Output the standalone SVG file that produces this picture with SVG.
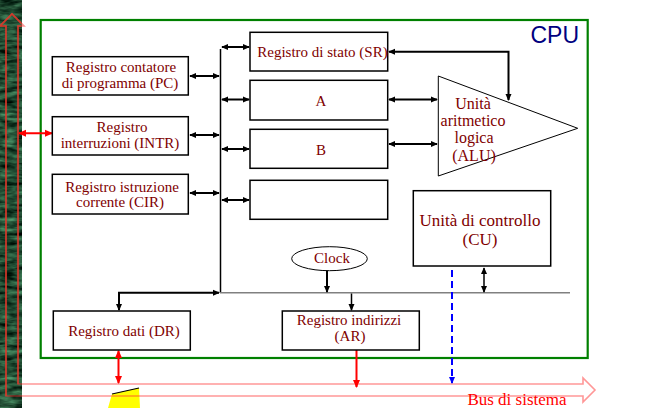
<svg xmlns="http://www.w3.org/2000/svg" width="655" height="408" viewBox="0 0 655 408">
<defs>
<filter id="marble" x="0" y="0" width="1" height="1" color-interpolation-filters="sRGB">
<feTurbulence type="fractalNoise" baseFrequency="0.06 0.22" numOctaves="3" seed="4" result="n"/>
<feColorMatrix in="n" type="matrix" values="0 0 0 0.5 -0.12  0 0 0 0.8 -0.1  0 0 0 0.6 -0.1  0 0 0 0 1"/>
</filter>
<clipPath id="strip"><rect x="0" y="0" width="21.5" height="408"/></clipPath>
<marker id="ah" viewBox="0 0 8 8" refX="7" refY="4" markerWidth="7" markerHeight="7" markerUnits="userSpaceOnUse" orient="auto-start-reverse"><path d="M0,0.5 L8,4 L0,7.5 z" fill="#000"/></marker>
<marker id="ahr" viewBox="0 0 8 8" refX="7" refY="4" markerWidth="8" markerHeight="8" markerUnits="userSpaceOnUse" orient="auto-start-reverse"><path d="M0,0.5 L8,4 L0,7.5 z" fill="#ff0000"/></marker>
<marker id="ahb" viewBox="0 0 8 8" refX="7" refY="4" markerWidth="7" markerHeight="7" markerUnits="userSpaceOnUse" orient="auto-start-reverse"><path d="M0,0.5 L8,4 L0,7.5 z" fill="#0000ff"/></marker>
</defs>
<style>
.box{fill:#fff;stroke:#000;stroke-width:1.5}
.t{font-family:"Liberation Serif","Times New Roman",serif;font-size:15px;fill:#800000;text-anchor:middle}
.tl{font-family:"Liberation Serif","Times New Roman",serif;font-size:17px;fill:#800000;text-anchor:middle}
.ta{font-family:"Liberation Serif","Times New Roman",serif;font-size:16px;fill:#800000;text-anchor:middle}
.c{fill:none;stroke:#000;stroke-width:2}
.ct{fill:none;stroke:#000;stroke-width:1.5}
.red{fill:none;stroke:#ff0000;stroke-width:2}
</style>
<rect width="655" height="408" fill="#fff"/>
<!-- left textured strip -->
<rect x="0" y="0" width="21.5" height="408" fill="#1d4a2b"/>
<rect x="0" y="0" width="21.5" height="408" filter="url(#marble)"/>
<!-- yellow fragment -->
<polygon points="112,394 139,388 140,408 108,408" fill="#ffff00"/>
<line x1="112" y1="394" x2="139" y2="388" stroke="#000" stroke-width="1.2"/>
<!-- system bus outline arrow -->
<g id="system-bus">
<path d="M6,396 L6,26 L0,26 L12,14 L24,26 L18,26 L18,384 L583,384 L583,378 L595,390 L583,402 L583,396 Z" fill="none" stroke="#ff3030" stroke-opacity="0.5" stroke-width="1.6"/>
<path d="M6,396 L6,26 L0,26 L12,14 L24,26 L18,26 L18,384" fill="none" stroke="#d83a2a" stroke-opacity="0.85" stroke-width="1.6" clip-path="url(#strip)"/>
<text x="517" y="405" style="font-family:'Liberation Serif','Times New Roman',serif;font-size:17px;fill:#ff0000;text-anchor:middle">Bus di sistema</text>
</g>
<!-- CPU frame -->
<g id="cpu">
<rect x="40.7" y="20" width="547" height="338" fill="none" stroke="#008000" stroke-width="2.2"/>
<text x="579" y="43" style="font-family:'Liberation Sans',Arial,sans-serif;font-size:23px;fill:#000080;text-anchor:end">CPU</text>
</g>
<g id="connectors">
<line class="ct" x1="220.5" y1="49" x2="220.5" y2="293"/>
<line x1="220" y1="292.7" x2="570" y2="292.7" stroke="#808080" stroke-width="1.5"/>
<line class="c" x1="190" y1="76" x2="219" y2="76" marker-start="url(#ah)" marker-end="url(#ah)"/>
<line class="c" x1="190" y1="135" x2="219" y2="135" marker-start="url(#ah)" marker-end="url(#ah)"/>
<line class="c" x1="190" y1="193" x2="219" y2="193" marker-start="url(#ah)" marker-end="url(#ah)"/>
<line class="c" x1="222" y1="47" x2="249" y2="47" marker-start="url(#ah)" marker-end="url(#ah)"/>
<line class="c" x1="222" y1="99.5" x2="249" y2="99.5" marker-start="url(#ah)" marker-end="url(#ah)"/>
<line class="c" x1="222" y1="149" x2="249" y2="149" marker-start="url(#ah)" marker-end="url(#ah)"/>
<line class="c" x1="222" y1="200" x2="249" y2="200" marker-start="url(#ah)" marker-end="url(#ah)"/>
<line class="c" x1="389" y1="99.5" x2="437" y2="99.5" marker-start="url(#ah)" marker-end="url(#ah)"/>
<line class="c" x1="389" y1="144" x2="437" y2="144" marker-start="url(#ah)" marker-end="url(#ah)"/>
<polyline class="c" points="389,51.7 508.5,51.7 508.5,100" marker-start="url(#ah)" marker-end="url(#ah)"/>
<polyline class="c" points="219,292.7 119,292.7 119,310" marker-start="url(#ah)" marker-end="url(#ah)"/>
<line class="c" x1="327" y1="270" x2="327" y2="292" marker-end="url(#ah)"/>
<line class="ct" x1="351.5" y1="293.5" x2="351.5" y2="310" marker-end="url(#ah)"/>
<line class="ct" x1="484" y1="268" x2="484" y2="292" marker-start="url(#ah)" marker-end="url(#ah)"/>
<line x1="452" y1="270" x2="452" y2="383" stroke="#0000ff" stroke-width="2" stroke-dasharray="7,4" marker-end="url(#ahb)"/>
<line class="red" x1="118.5" y1="351" x2="118.5" y2="383" marker-start="url(#ahr)" marker-end="url(#ahr)"/>
<line class="red" x1="356.5" y1="350" x2="356.5" y2="387" marker-end="url(#ahr)"/>
<line class="red" x1="19" y1="133.3" x2="52" y2="133.3" marker-start="url(#ahr)" marker-end="url(#ahr)"/>
</g>
<g id="pc"><rect class="box" x="52.3" y="56.7" width="136" height="38.3"/><text class="t" x="121" y="72">Registro contatore</text><text class="t" x="120" y="88">di programma (PC)</text></g>
<g id="intr"><rect class="box" x="52.3" y="116.7" width="136" height="38.3"/><text class="t" x="122" y="132">Registro</text><text class="t" x="120" y="148">interruzioni (INTR)</text></g>
<g id="cir"><rect class="box" x="52.3" y="174.3" width="136" height="39.7"/><text class="t" x="122" y="191.5">Registro istruzione</text><text class="t" x="120" y="206.5">corrente (CIR)</text></g>
<g id="sr"><rect class="box" x="250" y="32.3" width="137.7" height="38.7"/><text class="t" x="322.5" y="57">Registro di stato (SR)</text></g>
<g id="reg-a"><rect class="box" x="250" y="80.3" width="137.7" height="39.7"/><text class="t" x="321" y="106">A</text></g>
<g id="reg-b"><rect class="box" x="250" y="129.3" width="137.7" height="39"/><text class="t" x="321" y="155">B</text></g>
<g id="reg-blank"><rect class="box" x="250" y="180.3" width="137.7" height="39"/></g>
<g id="alu"><polygon points="438.3,76 577.7,128.3 438.3,176" fill="none" stroke="#000" stroke-width="1"/>
<text class="ta" x="473" y="109">Unità</text><text class="ta" x="473" y="126">aritmetico</text><text class="ta" x="474" y="143">logica</text><text class="ta" x="474" y="161">(ALU)</text></g>
<g id="cu"><rect class="box" x="413.3" y="190.7" width="137.4" height="75.3"/><text class="tl" x="480" y="226">Unità di controllo</text><text class="tl" x="480" y="245">(CU)</text></g>
<g id="clock"><ellipse cx="329.5" cy="258.7" rx="37.8" ry="12" fill="#fff" stroke="#000" stroke-width="1"/><text class="t" x="332" y="263">Clock</text></g>
<g id="dr"><rect class="box" x="53.3" y="311" width="137" height="39"/><text class="t" x="124" y="336">Registro dati (DR)</text></g>
<g id="ar"><rect class="box" x="282.3" y="311" width="137" height="39"/><text class="t" x="349" y="325">Registro indirizzi</text><text class="t" x="350" y="341">(AR)</text></g>
</svg>
